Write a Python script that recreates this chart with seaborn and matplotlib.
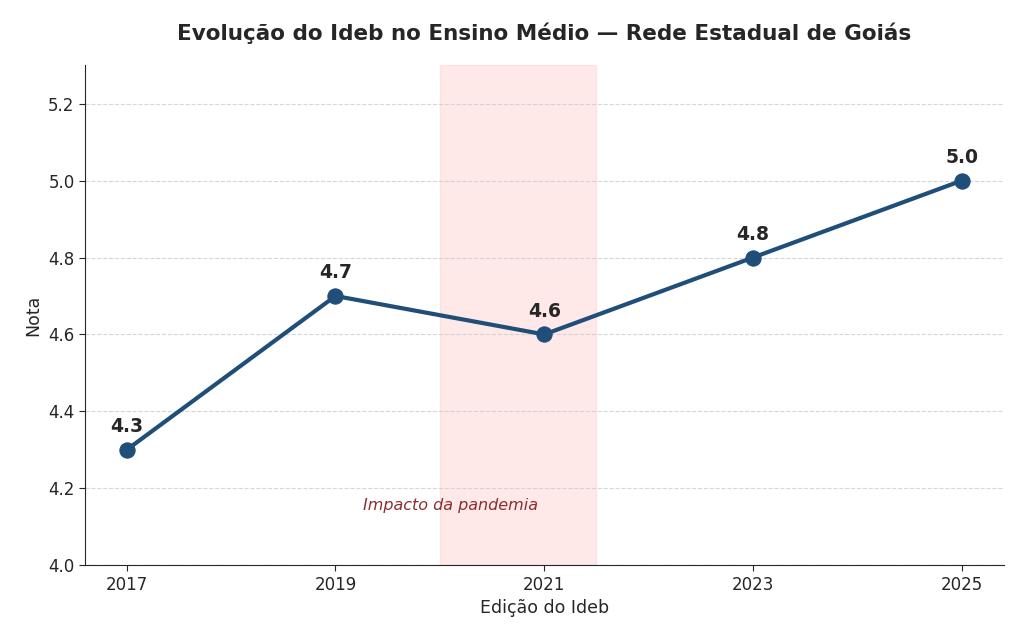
import numpy as np
import pandas as pd
import matplotlib
matplotlib.use("Agg")
import matplotlib.pyplot as plt
import seaborn as sns

anos = [2017, 2019, 2021, 2023, 2025]
notas = [4.3, 4.7, 4.6, 4.8, 5.0]
rotulos = ["4.3", "4.7", "4.6", "4.8", "5.0"]

df = pd.DataFrame({"ano": anos, "nota": notas})

sns.set_style("white")
plt.rcParams['font.family'] = ['DejaVu Sans']

fig, ax = plt.subplots(figsize=(10.24, 6.4), dpi=100)
fig.subplots_adjust(left=0.083, right=0.98, top=0.898, bottom=0.117)

ax.axvspan(2020, 2021.5, color="#ffcccc", alpha=0.45, zorder=0)
ax.text(2020.1, 4.155, "Impacto da pandemia", color="#8b2e2e", fontstyle="italic",
        fontsize=11.5, ha="center", va="center")

sns.lineplot(data=df, x="ano", y="nota", ax=ax, color="#1f4e79", linewidth=3,
             marker="o", markersize=11, markeredgecolor="#1f4e79")

for a, n, r in zip(anos, notas, rotulos):
    ax.annotate(r, (a, n), xytext=(0, 10), textcoords="offset points",
                ha="center", va="bottom", fontsize=13.5, fontweight="bold")

ax.set_xlim(2016.6, 2025.4)
ax.set_ylim(4.0, 5.3)
ax.set_xticks(anos)
ax.set_yticks([4.0, 4.2, 4.4, 4.6, 4.8, 5.0, 5.2])
ax.yaxis.grid(True, linestyle="--", color="#cccccc", alpha=0.8)
ax.tick_params(axis="both", labelsize=12, length=4, left=True, bottom=True)
sns.despine(ax=ax)

ax.set_xlabel("Edição do Ideb", fontsize=12.5)
ax.set_ylabel("Nota", fontsize=12.5)
ax.set_title("Evolução do Ideb no Ensino Médio — Rede Estadual de Goiás",
             fontsize=15.5, fontweight="bold", pad=18)

fig.savefig("out.png", dpi=100)
